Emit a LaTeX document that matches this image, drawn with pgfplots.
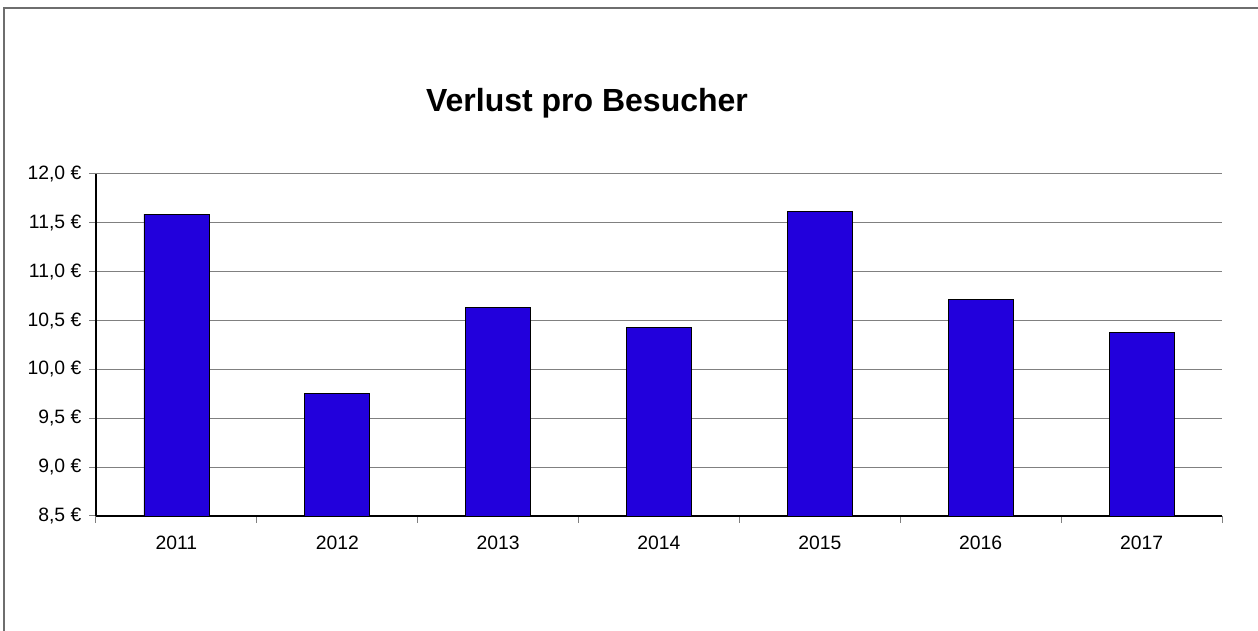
\documentclass[border=0pt]{standalone}
\usepackage{pgfplots}
\pgfplotsset{compat=1.18}
\usepackage{fontspec}
\setmainfont{Liberation Sans}
\definecolor{barblue}{RGB}{34,0,220}
\definecolor{gridgray}{RGB}{128,128,128}
\definecolor{framegray}{RGB}{110,110,110}
\begin{document}
\begin{tikzpicture}
\path[use as bounding box] (0pt,0pt) rectangle (943.5pt,473.25pt);
\draw[framegray, line width=1.2pt] (3pt,0pt) -- (3pt,467.25pt) -- (943.5pt,467.25pt);
\node[font=\bfseries\fontsize{24}{28}\selectfont] at (440.25pt,395.5pt) {Verlust pro Besucher};
\begin{axis}[
  at={(72pt,86.25pt)}, anchor=south west,
  scale only axis, width=844.5pt, height=256.5pt,
  xmin=-0.5, xmax=6.5, ymin=8.5, ymax=12,
  axis x line*=bottom, axis y line*=left,
  axis line style={black, line width=0.9pt},
  xtick={0,1,2,3,4,5,6},
  xticklabels={2011,2012,2013,2014,2015,2016,2017},
  major x tick style={draw=none},
  minor xtick={-0.5,0.5,1.5,2.5,3.5,4.5,5.5,6.5},
  minor x tick style={gray, line width=0.75pt},
  minor tick length=5pt,
  ytick={8.5,9,9.5,10,10.5,11,11.5,12},
  major tick length=5pt,
  tick align=outside,
  y tick style={gray, line width=0.75pt},
  ymajorgrids,
  grid style={gridgray, line width=0.75pt},
  /pgf/number format/assume math mode=true,
  /pgf/number format/.cd, fixed, fixed zerofill, precision=1, use comma,
  /pgfplots/.cd,
  yticklabel={\pgfmathprintnumber{\tick}~€},
  tick label style={font=\fontsize{14.5}{17}\selectfont},
  xticklabel style={yshift=-6.5pt},
  yticklabel style={xshift=-2.5pt},
  ybar, bar width=48.75pt,
]
\addplot[fill=barblue, draw=black, line width=0.6pt] coordinates {
  (0,11.59) (1,9.75) (2,10.63) (3,10.43) (4,11.62) (5,10.72) (6,10.38)
};
\end{axis}
\end{tikzpicture}
\end{document}
